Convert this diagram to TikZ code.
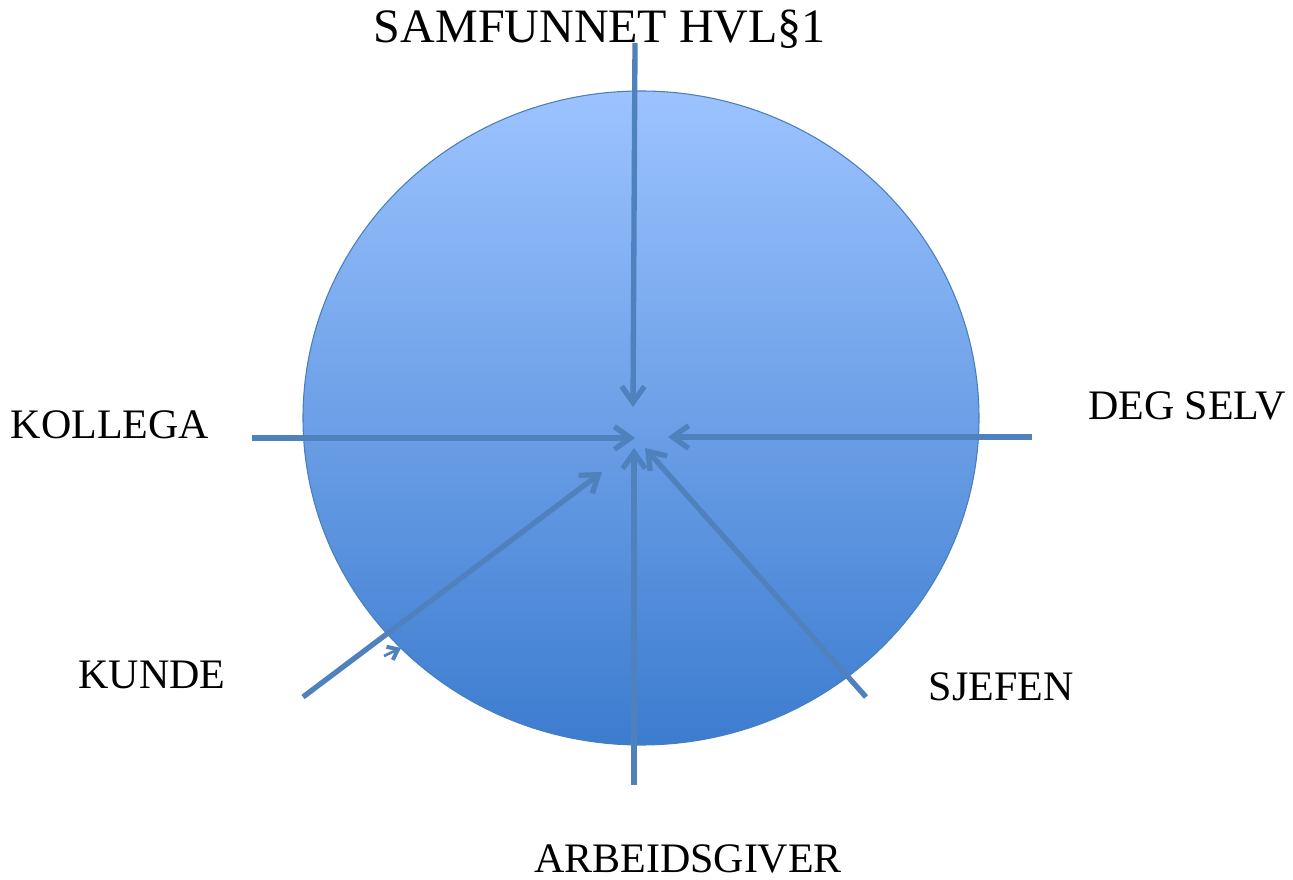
\documentclass[tikz,border=0pt]{standalone}
\usepackage{fontspec}
\setmainfont{Liberation Serif}
\usetikzlibrary{arrows.meta}
\definecolor{pilblaa}{RGB}{79,129,189}
\definecolor{toppblaa}{RGB}{156,195,255}
\definecolor{bunnblaa}{RGB}{60,124,207}
\definecolor{kantblaa}{RGB}{74,126,187}

\tikzset{
  pil/.style={draw=pilblaa, line width=4pt, -{Straight Barb[length=12pt,width=17pt,line width=4pt]}},
  smaapil/.style={draw=pilblaa, line width=2pt, -{Straight Barb[length=7pt,width=11pt,line width=3pt]}},
  etikett/.style={anchor=base, inner sep=0pt, font=\fontsize{31.5}{37}\selectfont},
}

\begin{document}
\begin{tikzpicture}[x=0.75pt,y=0.75pt,yscale=-1,xscale=1]
\useasboundingbox (0,0) rectangle (1293,880);
% sirkelen
\draw [kantblaa, line width=0.8pt, top color=toppblaa, bottom color=bunnblaa] (641,418) ellipse [x radius=338, y radius=327];
% endepunkter for pilene
\coordinate (samfunn) at (635,43);
\coordinate (samfunnmaal) at (633,407);
\coordinate (kollega) at (252,438);
\coordinate (kollegamaal) at (635,438);
\coordinate (degselv) at (1032,437);
\coordinate (degselvmaal) at (668,437);
\coordinate (kunde) at (303,697);
\coordinate (kundemaal) at (602,472);
\coordinate (arbeid) at (634,785);
\coordinate (arbeidmaal) at (634,448);
\coordinate (sjef) at (866,697);
\coordinate (sjefmaal) at (645,448);
\coordinate (stray) at (384,656);
\coordinate (straymaal) at (401,648);
% pilene
\draw [pil] (samfunn) -- (samfunnmaal);
\draw [pil] (kollega) -- (kollegamaal);
\draw [pil] (degselv) -- (degselvmaal);
\draw [pil] (kunde) -- (kundemaal);
\draw [pil] (arbeid) -- (arbeidmaal);
\draw [pil] (sjef) -- (sjefmaal);
\draw [smaapil] (stray) -- (straymaal);
% tekstene
\node [etikett, font=\fontsize{36}{42}\selectfont] (tsamfunn) at (600,43) {SAMFUNNET HVL§1};
\node [etikett] (tkollega) at (110,439) {KOLLEGA};
\node [etikett] (tdegselv) at (1187,420) {DEG SELV};
\node [etikett] (tkunde) at (152,688) {KUNDE};
\node [etikett] (tsjef) at (1001,700) {SJEFEN};
\node [etikett] (tarbeid) at (688,872) {ARBEIDSGIVER};
\end{tikzpicture}
\end{document}
